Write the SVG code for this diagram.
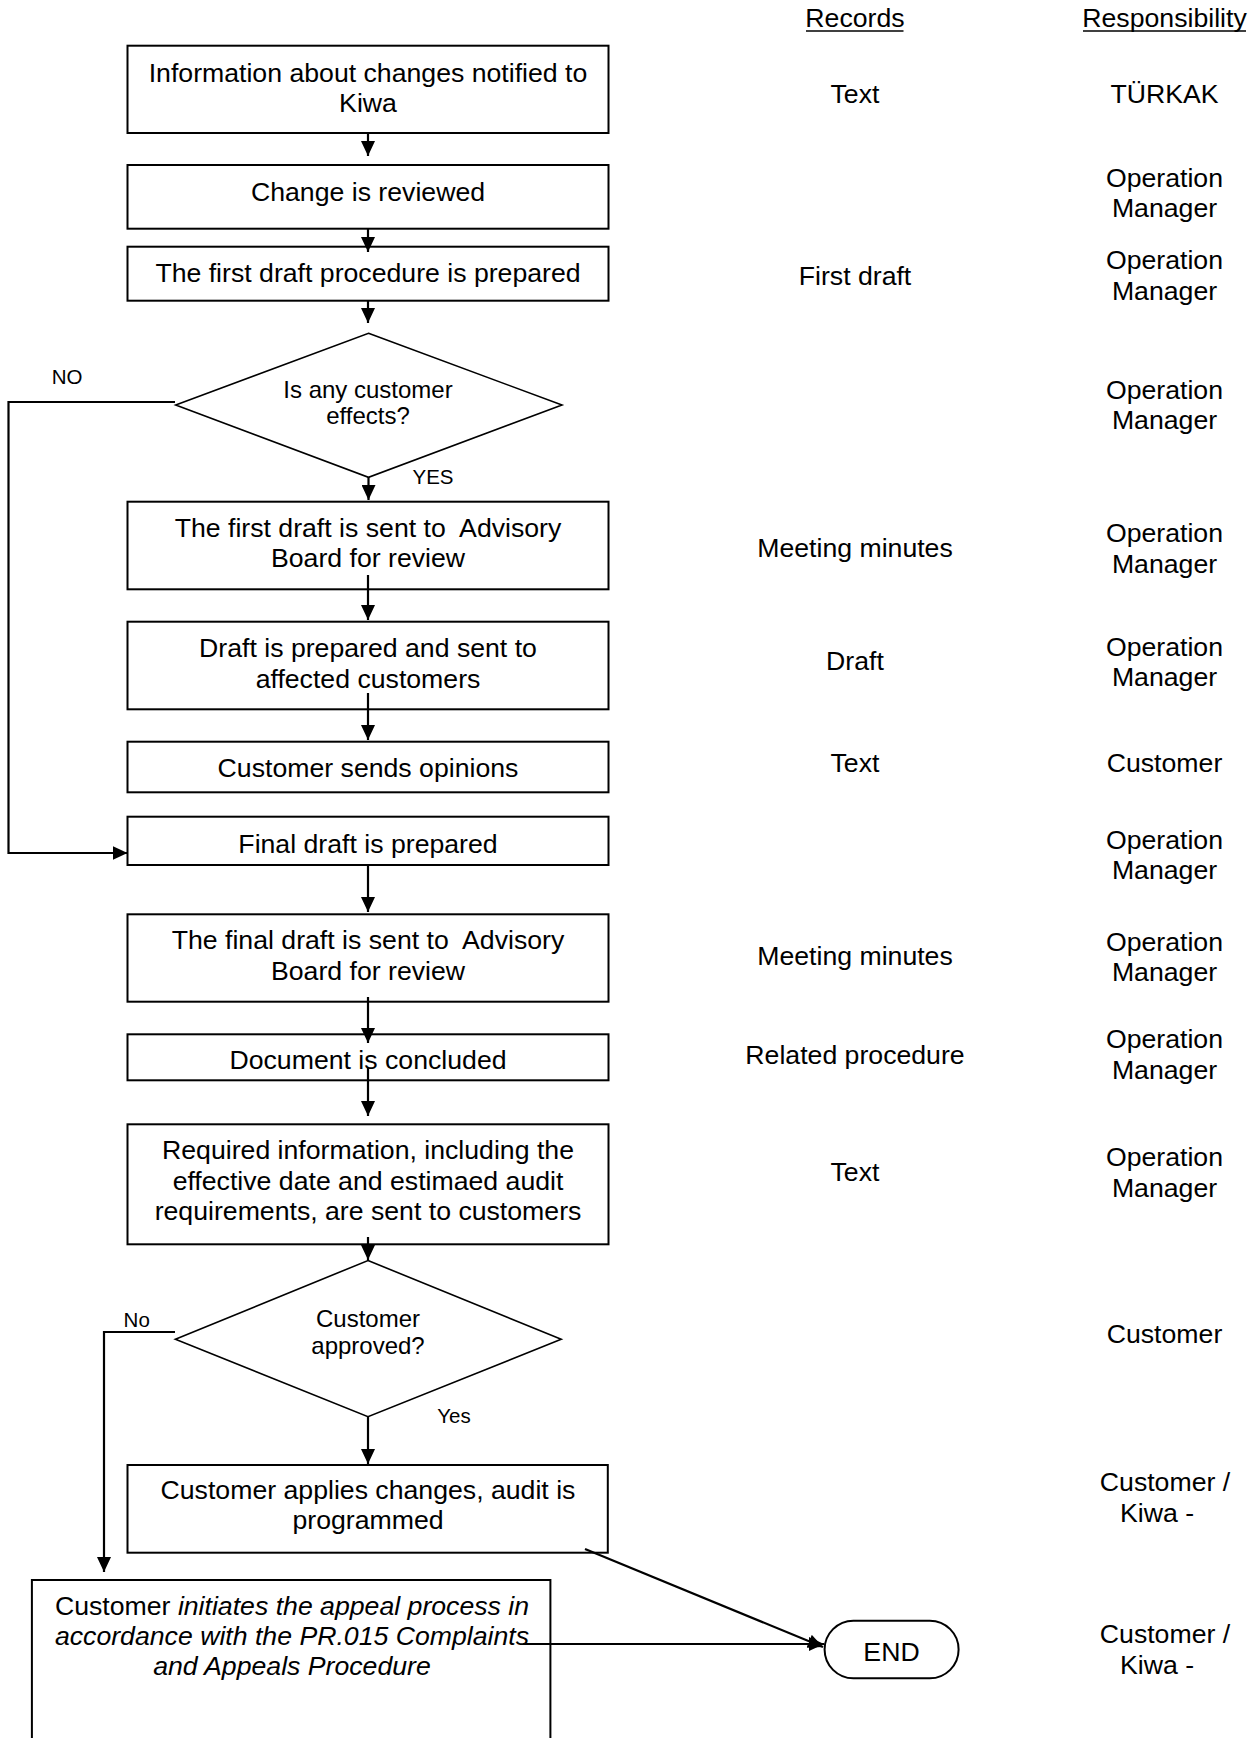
<svg xmlns="http://www.w3.org/2000/svg" width="1256" height="1738" viewBox="0 0 1256 1738">
<style>
text{font-family:"Liberation Sans",Arial,sans-serif;fill:#000;white-space:pre}
.t{font-size:26.67px;text-anchor:middle}
.d{font-size:24px;text-anchor:middle}
.l{font-size:20.5px;text-anchor:middle}
.box{fill:#fff;stroke:#000;stroke-width:2}
.dia{fill:#fff;stroke:#000;stroke-width:1.6}
.c{fill:none;stroke:#000;stroke-width:2.2}
.u{stroke:#000;stroke-width:1.6}
</style>
<defs>
<marker id="ah" markerWidth="15" markerHeight="14" refX="15" refY="7" orient="auto" markerUnits="userSpaceOnUse">
<path d="M0,0 L15,7 L0,14 z" fill="#000"/>
</marker>
</defs>
<rect width="1256" height="1738" fill="#fff"/>

<g id="headers">
<text class="t" x="855" y="27">Records</text>
<line class="u" x1="806" y1="31" x2="903.5" y2="31"/>
<text class="t" x="1164.5" y="27">Responsibility</text>
<line class="u" x1="1083" y1="31" x2="1246" y2="31"/>
</g>

<g id="n1"><rect class="box" x="127.5" y="45.7" width="481" height="87.3"/>
<text class="t" x="368" y="81.7">Information about changes notified to</text>
<text class="t" x="368" y="111.7">Kiwa</text></g>

<g id="n2"><rect class="box" x="127.5" y="165" width="481" height="63.7"/>
<text class="t" x="368" y="201">Change is reviewed</text></g>

<g id="n3"><rect class="box" x="127.5" y="246.7" width="481" height="54"/>
<text class="t" x="368" y="281.7">The first draft procedure is prepared</text></g>

<g id="d1"><polygon class="dia" points="368.5,333.3 562,405 368.5,477.3 175.7,405"/>
<text class="d" x="368" y="398.3">Is any customer</text>
<text class="d" x="368" y="424.3">effects?</text></g>

<g id="n4"><rect class="box" x="127.5" y="501.7" width="481" height="87.6"/>
<text class="t" x="368" y="537" xml:space="preserve">The first draft is sent to  Advisory</text>
<text class="t" x="368" y="567">Board for review</text></g>

<g id="n5"><rect class="box" x="127.5" y="621.7" width="481" height="87.6"/>
<text class="t" x="368" y="657">Draft is prepared and sent to</text>
<text class="t" x="368" y="687.5">affected customers</text></g>

<g id="n6"><rect class="box" x="127.5" y="741.7" width="481" height="50.6"/>
<text class="t" x="368" y="777.3">Customer sends opinions</text></g>

<g id="n7"><rect class="box" x="127.5" y="816.7" width="481" height="48.3"/>
<text class="t" x="368" y="852.7">Final draft is prepared</text></g>

<g id="n8"><rect class="box" x="127.5" y="914.3" width="481" height="87.4"/>
<text class="t" x="368" y="949.3" xml:space="preserve">The final draft is sent to  Advisory</text>
<text class="t" x="368" y="980">Board for review</text></g>

<g id="n9"><rect class="box" x="127.5" y="1034.3" width="481" height="46"/>
<text class="t" x="368" y="1069.3">Document is concluded</text></g>

<g id="n10"><rect class="box" x="127.5" y="1124.3" width="481" height="120"/>
<text class="t" x="368" y="1159">Required information, including the</text>
<text class="t" x="368" y="1189.5">effective date and estimaed audit</text>
<text class="t" x="368" y="1220">requirements, are sent to customers</text></g>

<g id="d2"><polygon class="dia" points="368,1260.5 561.2,1339.3 368,1416.7 175.4,1339.3"/>
<text class="d" x="368" y="1327.3">Customer</text>
<text class="d" x="368" y="1353.5">approved?</text></g>

<g id="n12"><rect class="box" x="127.5" y="1465" width="480.3" height="87.7"/>
<text class="t" x="368" y="1499">Customer applies changes, audit is</text>
<text class="t" x="368" y="1529">programmed</text></g>

<g id="n11"><rect class="box" x="31.9" y="1580" width="518.5" height="200"/>
<text class="t" x="292" y="1615">Customer <tspan font-style="italic">initiates the appeal process in</tspan></text>
<text class="t" x="292" y="1645" font-style="italic">accordance with the PR.015 Complaints</text>
<text class="t" x="292" y="1675" font-style="italic">and Appeals Procedure</text></g>

<g id="end"><rect class="box" x="824.6" y="1620.7" width="134" height="57.6" rx="28.8" ry="28.8"/>
<text class="t" x="891.5" y="1661">END</text></g>

<g id="connectors">
<line class="c" x1="368" y1="133" x2="368" y2="156" marker-end="url(#ah)"/>
<line class="c" x1="368" y1="229" x2="368" y2="252" marker-end="url(#ah)"/>
<line class="c" x1="368" y1="301" x2="368" y2="323" marker-end="url(#ah)"/>
<line class="c" x1="368.5" y1="477" x2="368.5" y2="500" marker-end="url(#ah)"/>
<line class="c" x1="368" y1="575" x2="368" y2="620" marker-end="url(#ah)"/>
<line class="c" x1="368" y1="693" x2="368" y2="740" marker-end="url(#ah)"/>
<line class="c" x1="368" y1="865" x2="368" y2="912" marker-end="url(#ah)"/>
<line class="c" x1="368" y1="997" x2="368" y2="1043" marker-end="url(#ah)"/>
<line class="c" x1="368" y1="1068" x2="368" y2="1116" marker-end="url(#ah)"/>
<line class="c" x1="368" y1="1237" x2="368" y2="1260" marker-end="url(#ah)"/>
<line class="c" x1="368" y1="1417" x2="368" y2="1464" marker-end="url(#ah)"/>
<polyline class="c" points="175,402 8.5,402 8.5,853 127.5,853" marker-end="url(#ah)"/>
<polyline class="c" points="175,1332 104,1332 104,1572" marker-end="url(#ah)"/>
<line class="c" x1="585" y1="1549" x2="823" y2="1647" marker-end="url(#ah)"/>
<line class="c" x1="523" y1="1644" x2="824" y2="1644" marker-end="url(#ah)"/>
<text class="l" x="67" y="384">NO</text>
<text class="l" x="433" y="484">YES</text>
<text class="l" x="136.7" y="1327">No</text>
<text class="l" x="454" y="1423">Yes</text>
</g>

<g id="records">
<text class="t" x="855" y="103">Text</text>
<text class="t" x="855" y="284.5">First draft</text>
<text class="t" x="855" y="556.5">Meeting minutes</text>
<text class="t" x="855" y="670">Draft</text>
<text class="t" x="855" y="772">Text</text>
<text class="t" x="855" y="965">Meeting minutes</text>
<text class="t" x="855" y="1064">Related procedure</text>
<text class="t" x="855" y="1181">Text</text>
</g>

<g id="responsibility">
<text class="t" x="1164.5" y="103">TÜRKAK</text>
<text class="t" x="1164.5" y="186.6">Operation</text><text class="t" x="1164.5" y="216.5">Manager</text>
<text class="t" x="1164.5" y="269.3">Operation</text><text class="t" x="1164.5" y="300">Manager</text>
<text class="t" x="1164.5" y="398.5">Operation</text><text class="t" x="1164.5" y="429">Manager</text>
<text class="t" x="1164.5" y="542">Operation</text><text class="t" x="1164.5" y="572.8">Manager</text>
<text class="t" x="1164.5" y="656">Operation</text><text class="t" x="1164.5" y="686">Manager</text>
<text class="t" x="1164.5" y="772">Customer</text>
<text class="t" x="1164.5" y="849">Operation</text><text class="t" x="1164.5" y="879">Manager</text>
<text class="t" x="1164.5" y="951">Operation</text><text class="t" x="1164.5" y="981">Manager</text>
<text class="t" x="1164.5" y="1048">Operation</text><text class="t" x="1164.5" y="1079">Manager</text>
<text class="t" x="1164.5" y="1166">Operation</text><text class="t" x="1164.5" y="1197">Manager</text>
<text class="t" x="1164.5" y="1343">Customer</text>
<text class="t" x="1165" y="1491">Customer /</text><text class="t" x="1157" y="1522">Kiwa -</text>
<text class="t" x="1165" y="1643">Customer /</text><text class="t" x="1157" y="1674">Kiwa -</text>
</g>
</svg>
